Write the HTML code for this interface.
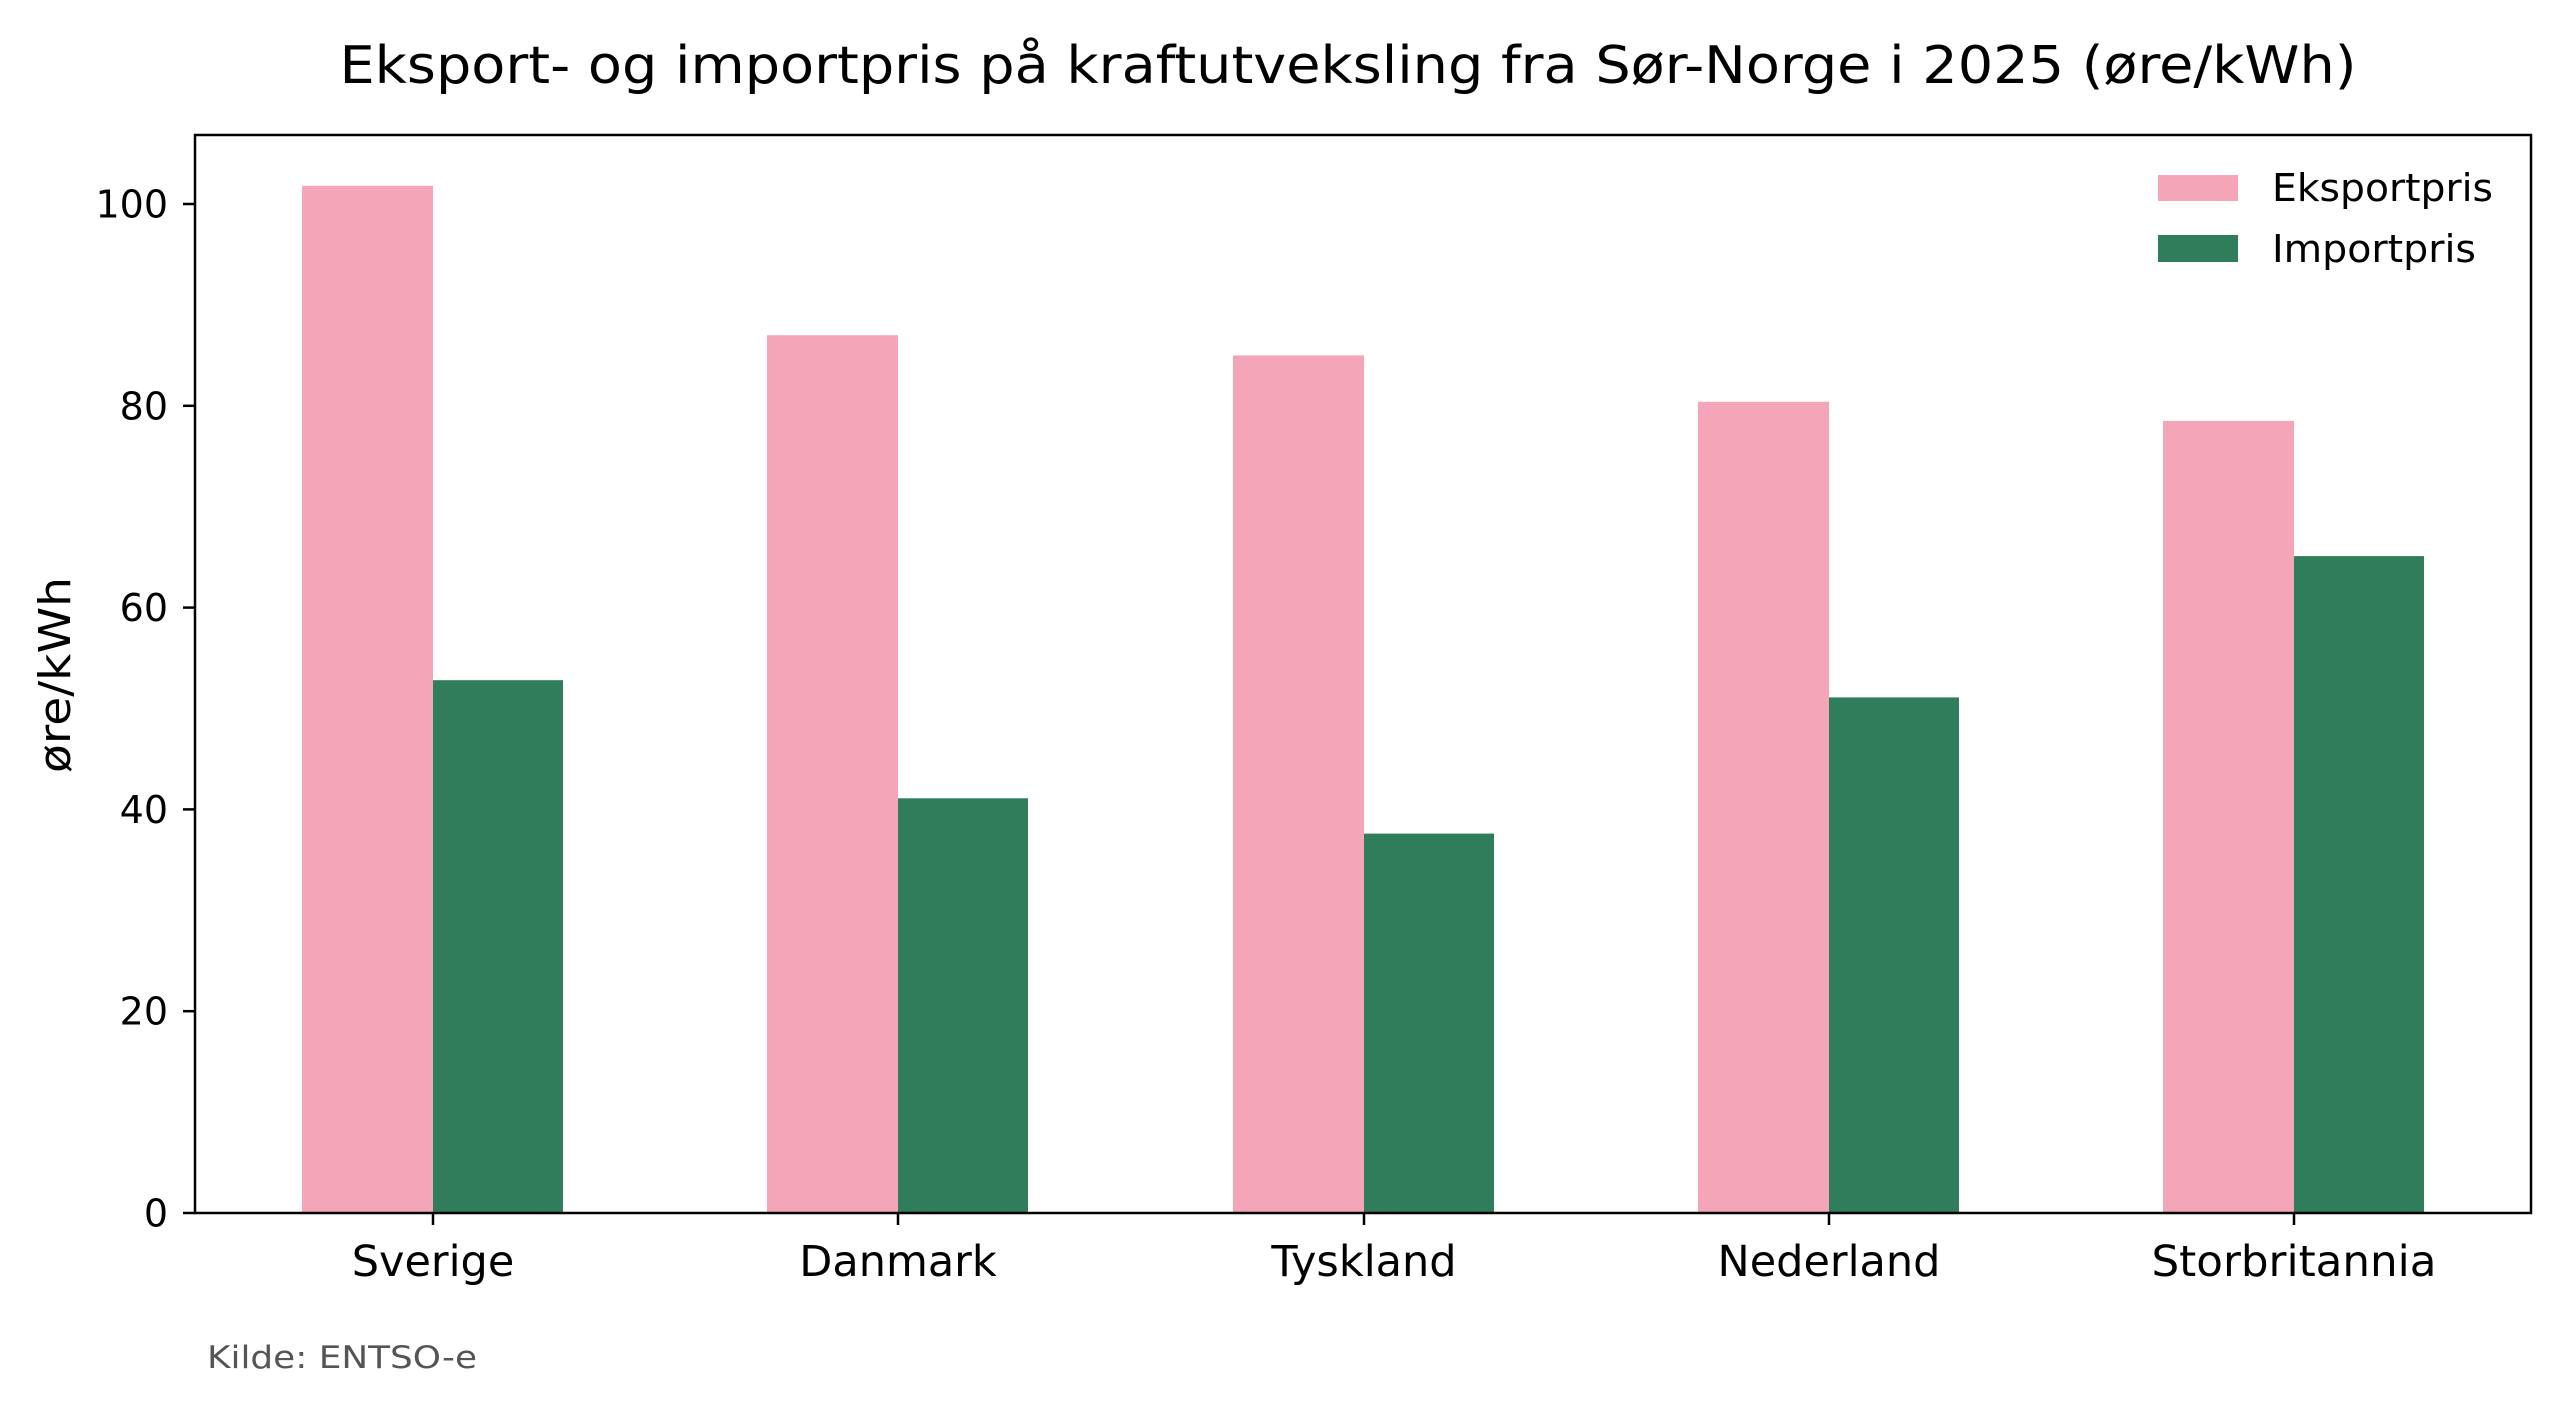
<!DOCTYPE html>
<html><head><meta charset="utf-8"><style>html,body{margin:0;padding:0;background:#fff}svg{display:block}</style></head>
<body>
<svg width="2560" height="1405" viewBox="0 0 2560 1405" xmlns="http://www.w3.org/2000/svg" font-family="DejaVu Sans, Liberation Sans, sans-serif">
<rect width="2560" height="1405" fill="#fff"/>
<text x="1348" y="83" font-size="52" text-anchor="middle" textLength="2017" lengthAdjust="spacingAndGlyphs">Eksport- og importpris på kraftutveksling fra Sør-Norge i 2025 (øre/kWh)</text>
<g fill="#f4a6b8">
<rect x="302" y="185.8" width="131" height="1027.2"/>
<rect x="767" y="335.2" width="131" height="877.8"/>
<rect x="1233" y="355.4" width="131" height="857.6"/>
<rect x="1698" y="401.8" width="131" height="811.2"/>
<rect x="2163" y="420.9" width="131" height="792.1"/>
</g>
<g fill="#2f7d5a">
<rect x="433" y="680.2" width="130" height="532.8"/>
<rect x="898" y="798.3" width="130" height="414.7"/>
<rect x="1364" y="833.6" width="130" height="379.4"/>
<rect x="1829" y="697.4" width="130" height="515.6"/>
<rect x="2294" y="556.1" width="130" height="656.9"/>
</g>
<rect x="195" y="135" width="2336" height="1078" fill="none" stroke="#000" stroke-width="2.5"/>
<g stroke="#000" stroke-width="2.5">
<line x1="183" y1="1213" x2="195" y2="1213"/>
<line x1="183" y1="1011.2" x2="195" y2="1011.2"/>
<line x1="183" y1="809.4" x2="195" y2="809.4"/>
<line x1="183" y1="607.6" x2="195" y2="607.6"/>
<line x1="183" y1="405.8" x2="195" y2="405.8"/>
<line x1="183" y1="204" x2="195" y2="204"/>
<line x1="433" y1="1213" x2="433" y2="1225"/>
<line x1="898" y1="1213" x2="898" y2="1225"/>
<line x1="1364" y1="1213" x2="1364" y2="1225"/>
<line x1="1829" y1="1213" x2="1829" y2="1225"/>
<line x1="2294" y1="1213" x2="2294" y2="1225"/>
</g>
<g font-size="38" text-anchor="end">
<text x="168" y="1226.5">0</text>
<text x="168" y="1024.7">20</text>
<text x="168" y="822.9">40</text>
<text x="168" y="621.1">60</text>
<text x="168" y="419.3">80</text>
<text x="168" y="217.5">100</text>
</g>
<g font-size="43" text-anchor="middle">
<text x="433" y="1276">Sverige</text>
<text x="898" y="1276">Danmark</text>
<text x="1364" y="1276">Tyskland</text>
<text x="1829" y="1276">Nederland</text>
<text x="2294" y="1276" textLength="285" lengthAdjust="spacingAndGlyphs">Storbritannia</text>
</g>
<text transform="translate(70,675) rotate(-90)" font-size="44" text-anchor="middle" textLength="196" lengthAdjust="spacingAndGlyphs">øre/kWh</text>
<rect x="2158" y="175" width="80" height="26" fill="#f4a6b8"/>
<rect x="2158" y="235" width="80" height="27" fill="#2f7d5a"/>
<text x="2272" y="201" font-size="38" textLength="221" lengthAdjust="spacingAndGlyphs">Eksportpris</text>
<text x="2272" y="262" font-size="38" textLength="204" lengthAdjust="spacingAndGlyphs">Importpris</text>
<text x="207" y="1368" font-size="31" fill="#555" textLength="270" lengthAdjust="spacingAndGlyphs">Kilde: ENTSO-e</text>
</svg>
</body></html>
